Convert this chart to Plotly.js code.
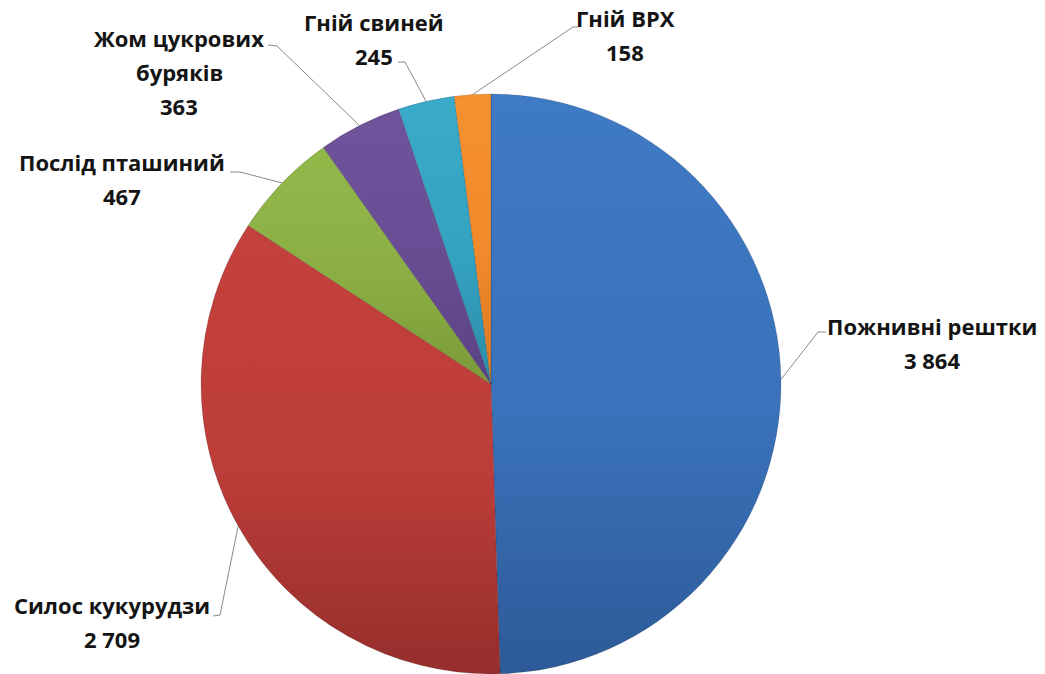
<!DOCTYPE html>
<html>
<head>
<meta charset="utf-8">
<script src="https://cdn.plot.ly/plotly-3.0.1.min.js"></script>
<style>html,body{margin:0;padding:0;background:#fff;}#chart{width:1045px;height:674px;}</style>
</head>
<body>
<div id="chart"></div>
<script>
// ---- data ----
const categories = ['Пожнивні рештки','Силос кукурудзи','Послід пташиний','Жом цукрових буряків','Гній свиней','Гній ВРХ'];
const values = [3864, 2709, 467, 363, 245, 158];
const valueText = ['3 864', '2 709', '467', '363', '245', '158'];
const labelLines = [['Пожнивні рештки'], ['Силос кукурудзи'], ['Послід пташиний'], ['Жом цукрових', 'буряків'], ['Гній свиней'], ['Гній ВРХ']];

// ---- styling / layout ----
const W = 1045, H = 674;
const CX = 491, CY = 384, R = 290;
const baseColors = ['#3A72BB', '#BC3D39', '#8AAE43', '#694D93', '#34A2C1', '#F2892C'];
const gradTop = ['#3F7AC4', '#C4413D', '#93B84A', '#70539B', '#3AABCA', '#F7912F'];
const gradBot = ['#2D5A98', '#952E2B', '#7A9A38', '#5A4284', '#2C8CA8', '#DC7820'];
// first-line centre of each label (px), line step
const labelPos = [[932, 326], [112, 605], [122, 162], [179, 38], [374, 22], [625, 18]];
const lineStep = 34;
// leader line elbow and end points (px)
const elbows = [[818, 332], [220, 615], [240, 172], [277, 46], [405, 62], [573, 27]];
const ends = [[826, 332], [213, 616], [230, 172], [268, 45], [398, 62], [578, 27]];

const px2x = x => x / W;
const px2y = y => 1 - y / H;

const total = values.reduce((a, b) => a + b, 0);
const annotations = [];
const shapes = [];
let cum = 0;
values.forEach((v, i) => {
  const mid = (cum + v / 2) / total * 2 * Math.PI;
  cum += v;
  const ex = CX + R * Math.sin(mid);
  const ey = CY - R * Math.cos(mid);
  const lines = labelLines[i].concat([valueText[i]]);
  lines.forEach((t, k) => {
    annotations.push({
      xref: 'paper', yref: 'paper',
      x: px2x(labelPos[i][0]), y: px2y(labelPos[i][1] + k * lineStep),
      xanchor: 'center', yanchor: 'middle',
      text: t, showarrow: false,
      font: {family: 'Open Sans, sans-serif', size: 22, color: '#141414', weight: 700}
    });
  });
  shapes.push({
    type: 'path', xref: 'paper', yref: 'paper',
    path: `M ${px2x(ex)} ${px2y(ey)} L ${px2x(elbows[i][0])} ${px2y(elbows[i][1])} L ${px2x(ends[i][0])} ${px2y(ends[i][1])}`,
    line: {color: '#8a8a8a', width: 1}
  });
});

const trace = {
  type: 'pie',
  labels: categories,
  values: values,
  sort: false,
  direction: 'clockwise',
  rotation: 0,
  textinfo: 'none',
  hoverinfo: 'none',
  marker: {colors: baseColors, line: {color: 'rgba(0,0,0,0.18)', width: 0.8}},
  domain: {x: [(CX - R) / W, (CX + R) / W], y: [1 - (CY + R) / H, 1 - (CY - R) / H]}
};

const layout = {
  width: W, height: H,
  margin: {l: 0, r: 0, t: 0, b: 0},
  showlegend: false,
  paper_bgcolor: '#ffffff',
  annotations: annotations,
  shapes: shapes
};

Plotly.newPlot('chart', [trace], layout, {staticPlot: true, displayModeBar: false}).then(gd => {
  const svg = gd.querySelector('svg.main-svg');
  const NS = 'http://www.w3.org/2000/svg';
  let defs = svg.querySelector('defs');
  if (!defs) { defs = document.createElementNS(NS, 'defs'); svg.insertBefore(defs, svg.firstChild); }
  baseColors.forEach((c, i) => {
    const g = document.createElementNS(NS, 'linearGradient');
    g.setAttribute('id', 'sliceGrad' + i);
    g.setAttribute('x1', '0'); g.setAttribute('y1', '0');
    g.setAttribute('x2', '0'); g.setAttribute('y2', '1');
    [[0, gradTop[i]], [0.55, c], [1, gradBot[i]]].forEach(([o, col]) => {
      const s = document.createElementNS(NS, 'stop');
      s.setAttribute('offset', o);
      s.setAttribute('stop-color', col);
      g.appendChild(s);
    });
    defs.appendChild(g);
  });
  gd.querySelectorAll('g.slice').forEach((sl, i) => {
    const p = sl.querySelector('path.surface');
    if (p) p.style.fill = 'url(#sliceGrad' + i + ')';
  });
});
</script>
</body>
</html>
